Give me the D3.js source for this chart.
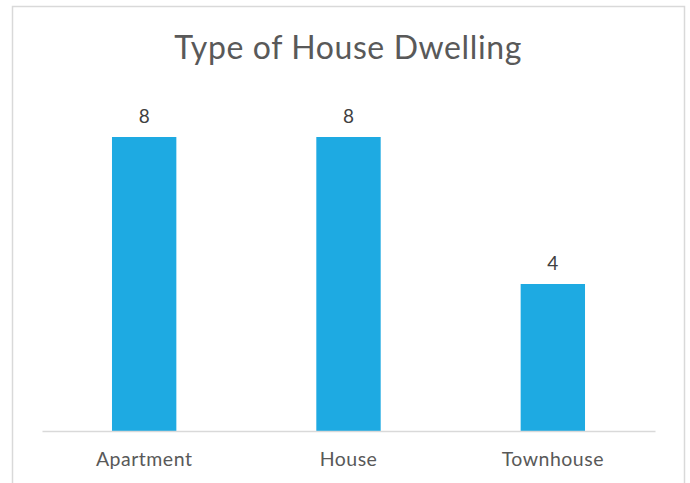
<!DOCTYPE html>
<html>
<head>
<meta charset="utf-8">
<script src="https://cdn.jsdelivr.net/npm/d3@7"></script>
<style>
  body { margin: 0; background: #fff; }
  text { font-family: "Lato", "Open Sans", sans-serif; }
</style>
</head>
<body>
<div id="chart"></div>
<script>
// data
const categories = ["Apartment", "House", "Townhouse"];
const counts = [8, 8, 4];
const chartTitle = "Type of House Dwelling";

const W = 690, H = 483;
const margin = {top: 137, right: 35, bottom: 52, left: 42};
const width = W - margin.left - margin.right,
    height = H - margin.top - margin.bottom;

const svg = d3.select("#chart")
    .append("svg")
    .attr("width", W)
    .attr("height", H);

// outer frame
svg.append("rect")
    .attr("x", 12.5)
    .attr("y", 6.5)
    .attr("width", 672)
    .attr("height", 490)
    .attr("fill", "#fff")
    .attr("stroke", "#d9d9d9")
    .attr("stroke-width", 1.5);

svg.append("text")
    .attr("x", 348)
    .attr("y", 59)
    .attr("text-anchor", "middle")
    .style("font-size", "32px")
    .style("letter-spacing", "0.6px")
    .style("fill", "#595959")
    .text(chartTitle);

const g = svg.append("g")
    .attr("transform", `translate(${margin.left}, ${margin.top})`);

const x = d3.scaleBand()
    .domain(categories)
    .range([0, width])
    .paddingInner(0.685)
    .paddingOuter(0.3425);

const y = d3.scaleLinear()
    .domain([0, 8])
    .range([height, 0]);

g.selectAll(".bar")
    .data(categories)
    .enter()
    .append("rect")
    .attr("class", "bar")
    .attr("x", d => x(d))
    .attr("y", (d, i) => y(counts[i]))
    .attr("width", x.bandwidth())
    .attr("height", (d, i) => height - y(counts[i]))
    .attr("fill", "#1eaae2");

// value labels
g.selectAll(".val")
    .data(categories)
    .enter()
    .append("text")
    .attr("class", "val")
    .attr("x", d => x(d) + x.bandwidth() / 2)
    .attr("y", (d, i) => y(counts[i]) - 14)
    .attr("text-anchor", "middle")
    .style("font-size", "19px")
    .style("fill", "#404040")
    .text((d, i) => counts[i]);

// x axis
const xAxis = g.append("g")
    .attr("transform", `translate(0, ${height})`)
    .call(d3.axisBottom(x).tickSize(0).tickPadding(21));
xAxis.select(".domain").attr("stroke", "#d9d9d9").attr("stroke-width", 1.5);
xAxis.selectAll("text")
    .style("font-size", "19.5px")
    .style("letter-spacing", "0.5px")
    .style("font-family", "Lato, 'Open Sans', sans-serif")
    .style("fill", "#595959");
</script>
</body>
</html>
